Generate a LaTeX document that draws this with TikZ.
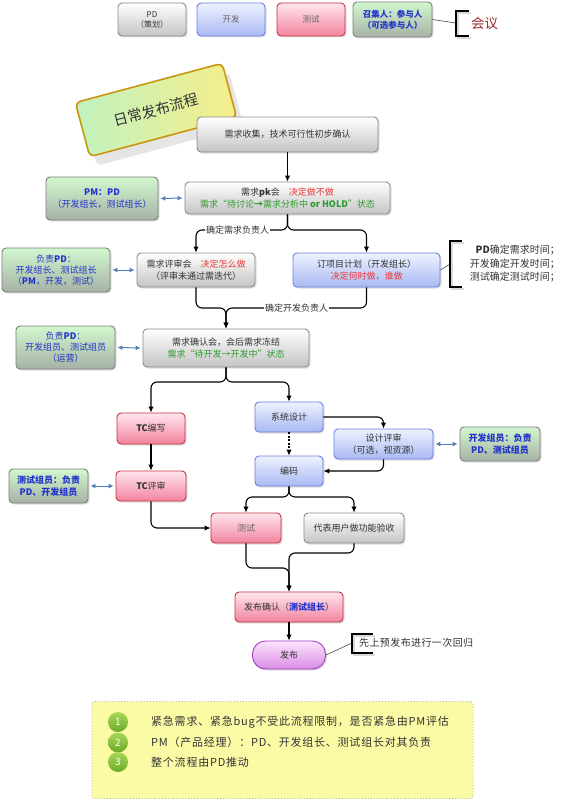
\documentclass[tikz,border=0pt]{standalone}
\usepackage{fontspec}
\setmainfont{Noto Sans CJK SC}
\usetikzlibrary{arrows.meta,shadows}
\definecolor{gbot}{HTML}{C4C4C4}
\definecolor{gbord}{HTML}{8C8C8C}
\definecolor{btop}{HTML}{EEF2FF}
\definecolor{bbot}{HTML}{A9B9F2}
\definecolor{bbord}{HTML}{6A7FE0}
\definecolor{ptop}{HTML}{FFE6EE}
\definecolor{pbot}{HTML}{F2849F}
\definecolor{pbord}{HTML}{C8323F}
\definecolor{grtop}{HTML}{D2F7CE}
\definecolor{grbot}{HTML}{A6B2A6}
\definecolor{grbord}{HTML}{7C7C7C}
\definecolor{rtop}{HTML}{FCE4FC}
\definecolor{rbot}{HTML}{D98DE6}
\definecolor{rbord}{HTML}{A33DC4}
\definecolor{titl}{HTML}{C0F2C0}
\definecolor{titr}{HTML}{F7EE8A}
\definecolor{titbord}{HTML}{C8960F}
\definecolor{yelf}{HTML}{FBFBA6}
\definecolor{dotc}{HTML}{B4B48C}
\definecolor{dblc}{HTML}{4D7EBA}
\definecolor{redt}{HTML}{E83A3A}
\definecolor{greent}{HTML}{2E9A2E}
\definecolor{bluet}{HTML}{2233CC}
\definecolor{meetc}{HTML}{9A2A2A}
\definecolor{txt}{HTML}{333333}
\definecolor{ctop}{HTML}{A8D75A}
\definecolor{cbot}{HTML}{6DAA25}
\begin{document}
\begin{tikzpicture}[x=1pt,y=-1pt,
  box/.style={draw, rounded corners=4pt, line width=0.9pt, align=center, inner sep=1pt,
    drop shadow={shadow xshift=1.5pt, shadow yshift=-1.5pt, opacity=0.25},
    font=\fontsize{9}{11.5}\selectfont, text=txt},
  graybox/.style={box, draw=gbord, top color=white, bottom color=gbot},
  bluebox/.style={box, draw=bbord, top color=btop, bottom color=bbot},
  pinkbox/.style={box, draw=pbord, top color=ptop, bottom color=pbot},
  greenbox/.style={box, draw=grbord, top color=grtop, bottom color=grbot, text=bluet},
  conn/.style={draw=black, line width=1.1pt, rounded corners=6pt, -{Latex[length=6pt,width=5.5pt]}},
  dbl/.style={draw=dblc, line width=1pt, {Latex[length=5pt,width=5pt]}-{Latex[length=5pt,width=5pt]}, shorten <=2pt, shorten >=2pt},
  lbl/.style={fill=white, inner sep=1pt, font=\fontsize{9}{11}\selectfont, text=txt},
  brk/.style={line width=2.2pt, line cap=butt},
  thinline/.style={line width=0.6pt, draw=black!70},
]
\useasboundingbox (0,0) rectangle (561,800);
\fill[white] (0,0) rectangle (561,800);

% legend
\node[graybox, minimum width=68pt, minimum height=33pt, font=\fontsize{8}{10}\selectfont] (lgpd) at (152,19.5) {PD\\（策划）};
\node[bluebox, minimum width=68pt, minimum height=33pt, font=\fontsize{8.5}{10}\selectfont, text=black!60] (lgdev) at (231,19.5) {开发};
\node[pinkbox, minimum width=68pt, minimum height=33pt, font=\fontsize{8.5}{10}\selectfont, text=black!60] (lgtest) at (311,19.5) {测试};
\node[greenbox, minimum width=79pt, minimum height=35pt, font=\bfseries\fontsize{8.5}{11}\selectfont] (lgmeet) at (392.5,19.5) {召集人：参与人\\（可选参与人）};
\coordinate (mb) at (456,23);
\draw[thinline] (lgmeet.east) -- (mb);
\draw[brk, black!15] (471,13) -- (458,13) -- (458,38) -- (471,38);
\draw[brk] (469,11) -- (456,11) -- (456,36) -- (469,36);
\node[text=meetc, font=\fontsize{13.5}{15}\selectfont, anchor=west, inner sep=0pt] (meet) at (471,23) {会议};

% title
\node[rotate=15, draw=titbord, line width=1.6pt, rounded corners=5pt, left color=titl, right color=titr,
  minimum width=152pt, minimum height=56pt, font=\fontsize{14.5}{16}\selectfont, text=black!80,
  drop shadow={shadow xshift=7pt, shadow yshift=-9pt, fill=black!10, opacity=1}] (title) at (156,110) {日常发布流程};

% main nodes
\node[graybox, minimum width=181pt, minimum height=35pt] (collect) at (287.5,134.5) {需求收集，技术可行性初步确认};
\node[graybox, minimum width=205pt, minimum height=32pt] (pk) at (287.5,198) {需求\textbf{pk}会\quad\textcolor{redt}{决定做不做}\\\textcolor{greent}{需求“待讨论\textbf{→}需求分析中 \textbf{or HOLD}”状态}};
\node[greenbox, minimum width=112pt, minimum height=43pt] (pmpd) at (102,198.5) {\textbf{PM：PD}\\（开发组长，测试组长）};
\node[graybox, minimum width=118pt, minimum height=34pt] (review) at (196,270) {需求评审会\quad\textcolor{redt}{决定怎么做}\\（评审未通过需迭代）};
\node[greenbox, minimum width=108pt, minimum height=44pt, font=\fontsize{9}{11}\selectfont] (fzpd1) at (56,270) {负责\textbf{PD}：\\开发组长、测试组长\\（\textbf{PM}，开发，测试）};
\node[bluebox, minimum width=147pt, minimum height=34pt] (plan) at (366.5,270) {订项目计划（开发组长）\\\textcolor{redt}{决定何时做，谁做}};
\node[graybox, minimum width=166pt, minimum height=38pt] (confirm) at (226,348) {需求确认会，会后需求冻结\\\textcolor{greent}{需求“待开发→开发中”状态}};
\node[greenbox, minimum width=99pt, minimum height=43pt, font=\fontsize{9}{11}\selectfont] (fzpd2) at (65.5,347.5) {负责\textbf{PD}：\\开发组员、测试组员\\（运营）};
\node[pinkbox, minimum width=68pt, minimum height=31pt] (tcw) at (151,428.5) {\textbf{TC}编写};
\node[bluebox, minimum width=68pt, minimum height=30pt] (sys) at (289,417) {系统设计};
\node[bluebox, minimum width=99pt, minimum height=30pt] (drev) at (383.5,444) {设计评审\\（可选，视资源）};
\node[greenbox, minimum width=80pt, minimum height=34pt, font=\bfseries\fontsize{9}{11.5}\selectfont] (devm) at (500,444) {开发组员：负责\\PD、测试组员};
\node[bluebox, minimum width=68pt, minimum height=30pt] (code) at (289,471) {编码};
\node[pinkbox, minimum width=70pt, minimum height=30pt] (tcr) at (151,486) {\textbf{TC}评审};
\node[greenbox, minimum width=79pt, minimum height=34pt, font=\bfseries\fontsize{9}{11.5}\selectfont] (testm) at (48.5,486) {测试组员：负责\\PD、开发组员};
\node[pinkbox, minimum width=70pt, minimum height=30pt, text=black!60] (test) at (246,528) {测试};
\node[graybox, minimum width=100pt, minimum height=30pt] (user) at (354,528) {代表用户做功能验收};
\node[pinkbox, minimum width=108pt, minimum height=30pt] (relconf) at (289,607) {发布确认（\textcolor{bluet}{\textbf{测试组长}}）};
\node[box, draw=rbord, top color=rtop, bottom color=rbot, rounded corners=13pt, minimum width=73pt, minimum height=28pt] (rel) at (289,655) {发布};

% connectors
\coordinate (j1) at (287.5,230);
\coordinate (j2) at (226,308);
\coordinate (j3) at (226,382);
\coordinate (j4) at (289,497);
\coordinate (j5) at (289,568);
\coordinate (j6) at (289,553);
\draw[conn] (collect.south) -- (pk.north);
\draw[conn] (pk.south) -- (j1) -| (review.north);
\draw[conn] (pk.south) -- (j1) -| (plan.north);
\node[lbl] (lab1) at (237.5,230) {确定需求负责人};
\draw[conn] (review.south) |- (j2) -- (confirm.north);
\draw[conn] (plan.south) |- (j2) -- (confirm.north);
\node[lbl] (lab2) at (296.5,308) {确定开发负责人};
\draw[conn] (confirm.south) -- (j3) -| (tcw.north);
\draw[conn] (confirm.south) -- (j3) -| (sys.north);
\draw[conn] (tcw.south) -- (tcr.north);
\draw[conn] (sys.east) -| (drev.north);
\draw[conn, dash pattern=on 2pt off 1.5pt] (sys.south) -- (code.north);
\draw[conn] (drev.south) |- (code.east);
\draw[conn] (tcr.south) |- (test.west);
\draw[conn] (code.south) -- (j4) -| (test.north);
\draw[conn] (code.south) -- (j4) -| (user.north);
\draw[conn] (user.south) |- (j6) -- (relconf.north);
\draw[conn] (test.south) |- (j5) -- (relconf.north);
\draw[conn] (relconf.south) -- (rel.north);

% double arrows
\draw[dbl] (pmpd.east) -- (pk.west);
\draw[dbl] (fzpd1.east) -- (review.west);
\draw[dbl] (fzpd2.east) -- (confirm.west);
\draw[dbl] (testm.east) -- (tcr.west);
\draw[dbl] (drev.east) -- (devm.west);

% plan bracket
\coordinate (pb) at (450,264);
\draw[thinline] (plan.east) -- (pb);
\draw[brk, black!15] (464,243) -- (452,243) -- (452,289) -- (464,289);
\draw[brk] (462,241) -- (450,241) -- (450,287) -- (462,287);
\node[anchor=east, align=right, inner sep=0pt, font=\fontsize{10}{13.5}\selectfont, text=txt] (plantxt) at (560,264) {\textbf{PD}确定需求时间；\\开发确定开发时间；\\测试确定测试时间；};

% release bracket
\coordinate (rb) at (352,643);
\draw[thinline] (rel.east) -- (rb);
\draw[brk, black!15] (375,636) -- (354,636) -- (354,655) -- (375,655);
\draw[brk] (373,634) -- (352,634) -- (352,653) -- (373,653);
\node[anchor=west, inner sep=0pt, font=\fontsize{10}{12}\selectfont\addfontfeature{LetterSpace=4}, text=txt] (reltxt) at (359,643) {先上预发布进行一次回归};

% notes box
\node[draw=dotc, dotted, line width=0.9pt, fill=yelf, rounded corners=3pt, minimum width=381pt, minimum height=97pt] (note) at (282.5,750) {};
\foreach \i/\yy/\t in {1/722/{紧急需求、紧急bug不受此流程限制，是否紧急由PM评估}, 2/742.5/{PM（产品经理）：PD、开发组长、测试组长对其负责}, 3/762/{整个流程由PD推动}} {
  \node[circle, minimum size=20pt, inner sep=0pt, top color=ctop, bottom color=cbot, text=white, font=\fontsize{10}{12}\selectfont] (c\i) at (118,\yy) {\i};
  \node[anchor=west, inner sep=0pt, text=txt, font=\fontsize{11}{13}\selectfont\addfontfeature{LetterSpace=7}] (t\i) at (151,\yy) {\t};
}
\end{tikzpicture}
\end{document}
